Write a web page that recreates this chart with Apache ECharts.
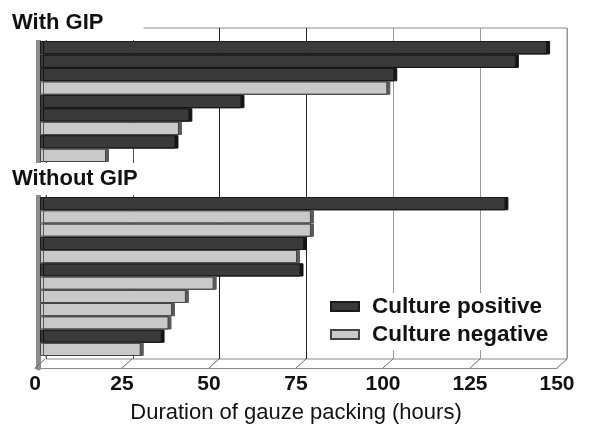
<!DOCTYPE html>
<html>
<head>
<meta charset="utf-8">
<style>
  html, body { margin: 0; padding: 0; background: #fff; }
  #chart { width: 600px; height: 435px; }
</style>
<script src="https://cdn.jsdelivr.net/npm/echarts@6/dist/echarts.min.js"></script>
</head>
<body>
<div id="chart"></div>
<script>
// data (hours of gauze packing, top to bottom)
var withGipCases = ['1', '2', '3', '4', '5', '6', '7', '8', '9'];
var withGipHours = [146, 137, 102, 100, 58, 43, 40, 39, 19];
var withGipPositive = [1, 1, 1, 0, 1, 1, 0, 1, 0];

var withoutGipCases = ['1', '2', '3', '4', '5', '6', '7', '8', '9', '10', '11', '12'];
var withoutGipHours = [134, 78, 78, 76, 74, 75, 50, 42, 38, 37, 35, 29];
var withoutGipPositive = [1, 0, 0, 1, 0, 1, 0, 0, 0, 0, 1, 0];

var tickValues = [0, 25, 50, 75, 100, 125, 150];

var chart = echarts.init(document.getElementById('chart'));

var darkStyle = {
  color: '#3a3a3a', borderColor: '#1a1a1a', borderWidth: 1,
  shadowColor: '#141414', shadowOffsetX: 3, shadowOffsetY: 0, shadowBlur: 0
};
var lightStyle = {
  color: '#c9c9c9', borderColor: '#454545', borderWidth: 1,
  shadowColor: '#5a5a5a', shadowOffsetX: 3, shadowOffsetY: 0, shadowBlur: 0
};

function panelSeries(hours, positive, axis) {
  return [{
    name: 'Culture positive', type: 'bar',
    xAxisIndex: axis, yAxisIndex: axis,
    barWidth: '100%', barGap: '-100%',
    data: hours.map(function (v, i) { return positive[i] ? v : '-'; }),
    itemStyle: darkStyle
  }, {
    name: 'Culture negative', type: 'bar',
    xAxisIndex: axis, yAxisIndex: axis,
    barWidth: '100%', barGap: '-100%',
    data: hours.map(function (v, i) { return positive[i] ? '-' : v; }),
    itemStyle: lightStyle
  }];
}

var hidden = { show: false };

chart.setOption({
  animation: false,
  title: [{
    text: 'With GIP', left: 0, top: 0,
    padding: [10, 40, 4, 12],
    backgroundColor: '#fff',
    textStyle: { fontFamily: 'Arial, "Liberation Sans"', fontWeight: 'bold', fontSize: 22, lineHeight: 26, color: '#111' }
  }, {
    text: 'Without GIP', left: 0, top: 163,
    padding: [3, 6, 3, 12],
    backgroundColor: '#fff',
    textStyle: { fontFamily: 'Arial, "Liberation Sans"', fontWeight: 'bold', fontSize: 22, lineHeight: 26, color: '#111' }
  }],
  legend: {
    orient: 'vertical', left: 326, top: 293,
    padding: [2, 14, 4, 4],
    backgroundColor: '#fff',
    itemWidth: 28, itemHeight: 9, itemGap: 5,
    icon: 'rect', selectedMode: false,
    itemStyle: { shadowColor: 'transparent' },
    data: ['Culture positive', 'Culture negative'],
    textStyle: { fontFamily: 'Arial, "Liberation Sans"', fontWeight: 'bold', fontSize: 22.5, lineHeight: 22, color: '#111', padding: [0, 0, 0, 8] }
  },
  grid: [
    // back wall
    { left: 46, right: 33, top: 28, bottom: 76, show: true, borderColor: '#8a8a8a', borderWidth: 1 },
    // With GIP bars
    { left: 40, right: 39, top: 41, height: 121 },
    // Without GIP bars
    { left: 40, right: 39, top: 197, height: 159 },
    // front edge with labels
    { left: 35, right: 43, top: 40, bottom: 67 }
  ],
  xAxis: [{
    gridIndex: 0, type: 'value', min: 0, max: 150, interval: 25,
    axisLine: hidden, axisTick: hidden, axisLabel: hidden,
    splitLine: { show: true, lineStyle: { color: ['#555', '#555', '#222', '#222', '#9a9a9a', '#9a9a9a', '#9a9a9a'], width: 1 } }
  }, {
    gridIndex: 1, type: 'value', min: 0, max: 150, show: false
  }, {
    gridIndex: 2, type: 'value', min: 0, max: 150, show: false
  }, {
    gridIndex: 3, type: 'value', min: 0, max: 150, interval: 25,
    axisLine: { show: true, lineStyle: { color: '#8a8a8a', width: 1 } },
    axisTick: hidden, splitLine: hidden,
    axisLabel: { margin: 6, color: '#111', fontWeight: 'bold', fontSize: 21, fontFamily: 'Arial, "Liberation Sans"' },
    name: 'Duration of gauze packing (hours)', nameLocation: 'middle', nameGap: 34,
    nameTextStyle: { fontFamily: 'Arial, "Liberation Sans"', fontSize: 22, color: '#111' }
  }],
  yAxis: [{
    gridIndex: 0, type: 'value', show: false
  }, {
    gridIndex: 1, type: 'category', inverse: true, data: withGipCases, show: false
  }, {
    gridIndex: 2, type: 'category', inverse: true, data: withoutGipCases, show: false
  }, {
    gridIndex: 3, type: 'value', min: 0, max: 1, offset: -3,
    axisLine: { show: true, lineStyle: { color: '#8c8c8c', width: 5 } },
    axisTick: hidden, axisLabel: hidden, splitLine: hidden
  }],
  series: panelSeries(withGipHours, withGipPositive, 1)
    .concat(panelSeries(withoutGipHours, withoutGipPositive, 2))
    .concat([{
      type: 'custom', xAxisIndex: 3, yAxisIndex: 3, silent: true,
      data: tickValues,
      renderItem: function (params, api) {
        var p = api.coord([api.value(0), 0]);
        return {
          type: 'line',
          shape: { x1: p[0], y1: p[1], x2: p[0] + 10, y2: p[1] - 9 },
          style: { stroke: '#666', lineWidth: 1 }
        };
      }
    }])
});
</script>
</body>
</html>
